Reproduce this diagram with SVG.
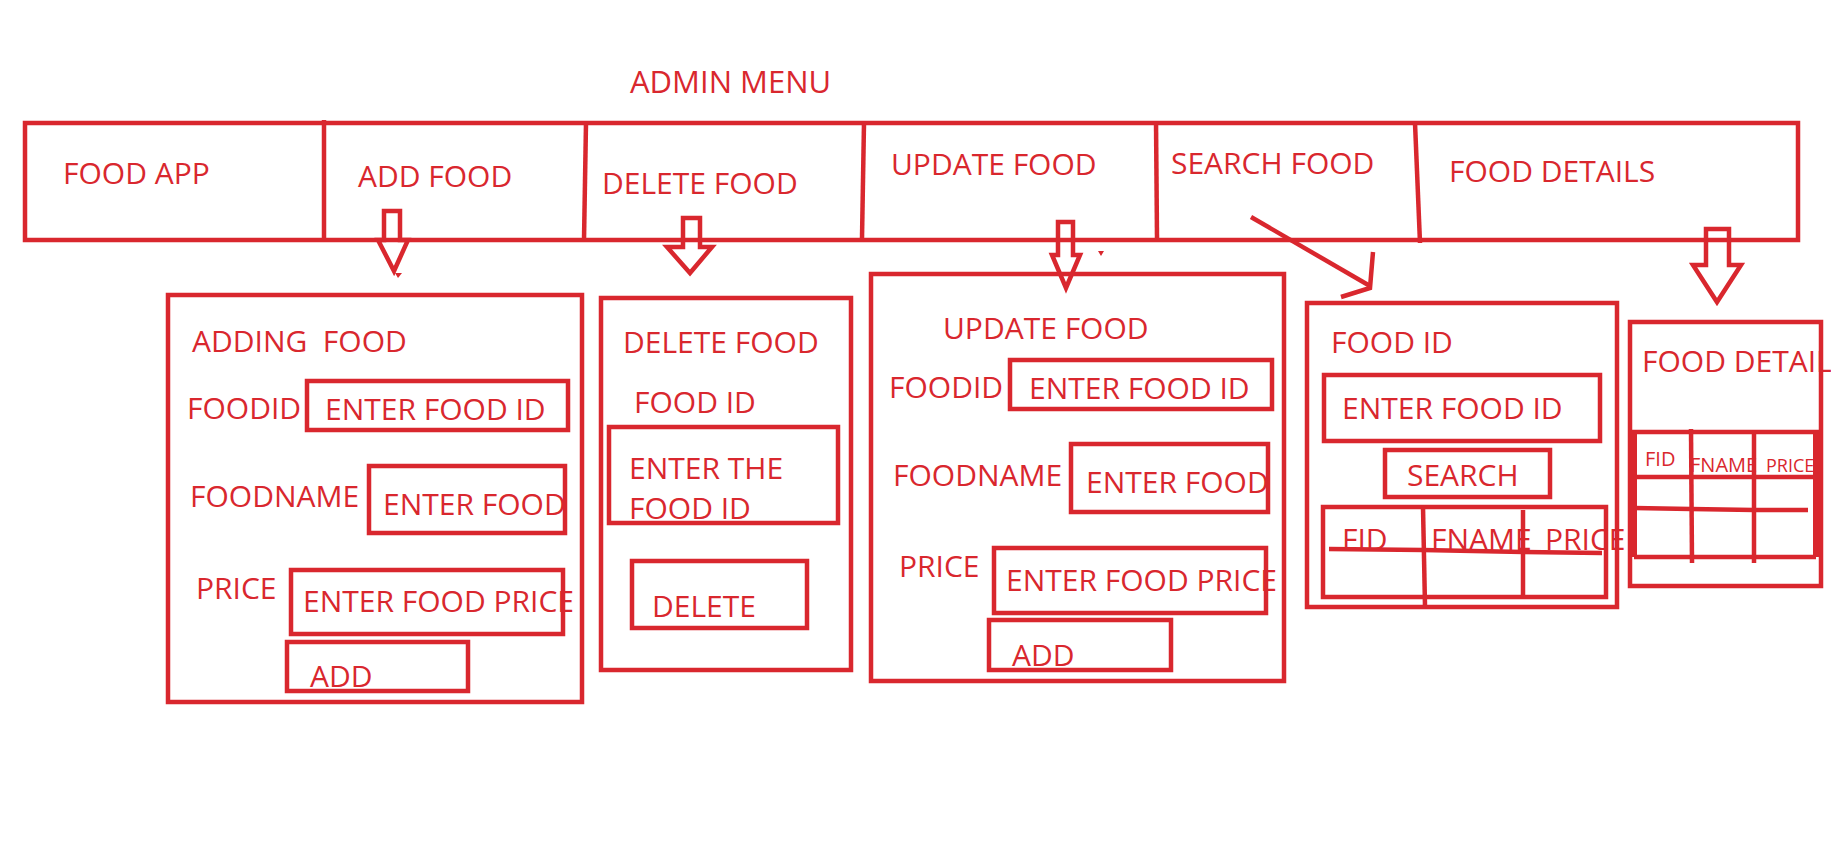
<svg xmlns="http://www.w3.org/2000/svg" width="1831" height="846" viewBox="0 0 1831 846">
<style>
.s{fill:none;stroke:#d9272e;stroke-width:4.5;stroke-linejoin:miter}
.t{font-family:"Open Sans","Noto Sans",sans-serif;font-size:30px;fill:#d9272e;white-space:pre}
.p{font-size:30px}
.sm{font-size:20px}
.dot{fill:#d9272e}
</style>
<rect width="1831" height="846" fill="#ffffff"/>
<text class="t" x="630" y="93" style="font-size:31px">ADMIN MENU</text>
<g id="menu-bar">
<rect class="s" x="25" y="123" width="1773" height="117"/>
<line class="s" x1="324" y1="120" x2="324" y2="240"/>
<line class="s" x1="586" y1="123" x2="584" y2="240"/>
<line class="s" x1="864" y1="123" x2="862" y2="238"/>
<line class="s" x1="1156" y1="121" x2="1157" y2="238"/>
<line class="s" x1="1415" y1="123" x2="1420" y2="243"/>
<text class="t" x="63" y="184">FOOD APP</text>
<text class="t" x="358" y="187">ADD FOOD</text>
<text class="t" x="602" y="194">DELETE FOOD</text>
<text class="t" x="891" y="175">UPDATE FOOD</text>
<text class="t" x="1171" y="174">SEARCH FOOD</text>
<text class="t" x="1449" y="182">FOOD DETAILS</text>
</g>
<g id="connectors">
<polygon class="s" points="384,211 400,211 400,240 408,240 394,271 378,240 384,240"/>
<polygon class="dot" points="395,273 402,273 398,278"/>
<polygon class="s" points="683,218 700,218 700,247 712,247 690,273 667,247 683,247"/>
<polygon class="s" points="1058,222 1073,222 1073,255 1080,255 1066,288 1052,255 1058,255"/>
<polygon class="dot" points="1098,251 1104,251 1101,256"/>
<line class="s" x1="1251" y1="217" x2="1370" y2="286"/>
<polyline class="s" points="1373,252 1370,288 1341,297"/>
<polygon class="s" points="1706,229 1729,229 1729,265 1741,265 1717,302 1693,265 1706,265"/>
</g>
<g id="adding-food">
<rect class="s" x="168" y="295" width="414" height="407"/>
<text class="t p" x="192" y="352">ADDING  FOOD</text>
<text class="t p" x="187" y="419">FOODID</text>
<rect class="s" x="307" y="381" width="261" height="49"/>
<text class="t p" x="325" y="420">ENTER FOOD ID</text>
<text class="t p" x="190" y="507">FOODNAME</text>
<rect class="s" x="369" y="466" width="196" height="67"/>
<text class="t p" x="383" y="515">ENTER FOOD</text>
<text class="t p" x="196" y="599">PRICE</text>
<rect class="s" x="291" y="570" width="272" height="64"/>
<text class="t p" x="303" y="612">ENTER FOOD PRICE</text>
<rect class="s" x="287" y="642" width="181" height="49"/>
<text class="t p" x="310" y="687">ADD</text>
</g>
<g id="delete-food">
<rect class="s" x="601" y="298" width="250" height="372"/>
<text class="t p" x="623" y="353">DELETE FOOD</text>
<text class="t p" x="634" y="413">FOOD ID</text>
<rect class="s" x="609" y="427" width="229" height="96"/>
<text class="t p" x="629" y="479">ENTER THE</text>
<text class="t p" x="629" y="519">FOOD ID</text>
<rect class="s" x="632" y="561" width="175" height="67"/>
<text class="t p" x="652" y="617">DELETE</text>
</g>
<g id="update-food">
<rect class="s" x="871" y="274" width="413" height="407"/>
<text class="t p" x="943" y="339">UPDATE FOOD</text>
<text class="t p" x="889" y="398">FOODID</text>
<rect class="s" x="1010" y="360" width="262" height="49"/>
<text class="t p" x="1029" y="399">ENTER FOOD ID</text>
<text class="t p" x="893" y="486">FOODNAME</text>
<rect class="s" x="1071" y="444" width="197" height="68"/>
<text class="t p" x="1086" y="493">ENTER FOOD</text>
<text class="t p" x="899" y="577">PRICE</text>
<rect class="s" x="994" y="548" width="272" height="65"/>
<text class="t p" x="1006" y="591">ENTER FOOD PRICE</text>
<rect class="s" x="989" y="620" width="182" height="50"/>
<text class="t p" x="1012" y="666">ADD</text>
</g>
<g id="search-food">
<rect class="s" x="1307" y="303" width="310" height="304"/>
<text class="t p" x="1331" y="353">FOOD ID</text>
<rect class="s" x="1324" y="375" width="276" height="66"/>
<text class="t p" x="1342" y="419">ENTER FOOD ID</text>
<rect class="s" x="1385" y="450" width="165" height="47"/>
<text class="t p" x="1407" y="486">SEARCH</text>
<rect class="s" x="1323" y="507" width="283" height="90"/>
<line class="s" x1="1423" y1="507" x2="1425" y2="606"/>
<line class="s" x1="1523" y1="510" x2="1523" y2="596"/>
<polyline class="s" points="1329,549 1423,550 1523,552 1602,553"/>
<text class="t p" x="1342" y="550">FID</text>
<text class="t p" x="1431" y="550">FNAME</text>
<text class="t p" x="1545" y="550">PRICE</text>
</g>
<g id="food-details">
<rect class="s" x="1630" y="322" width="191" height="264"/>
<text class="t p" x="1642" y="372">FOOD DETAIL</text>
<line class="s" x1="1630" y1="432" x2="1821" y2="432"/>
<line class="s" x1="1634" y1="432" x2="1634" y2="557" style="stroke-width:6"/>
<line class="s" x1="1816" y1="432" x2="1816" y2="557" style="stroke-width:6"/>
<line class="s" x1="1634" y1="557" x2="1816" y2="557"/>
<line class="s" x1="1691" y1="429" x2="1692" y2="563"/>
<line class="s" x1="1754" y1="434" x2="1754" y2="563"/>
<line class="s" x1="1634" y1="477" x2="1813" y2="477"/>
<polyline class="s" points="1634,508 1691,509 1754,510 1808,510"/>
<text class="t sm" x="1645" y="466">FID</text>
<text class="t sm" x="1690" y="472">FNAME</text>
<text class="t sm" x="1766" y="472" style="font-size:18px">PRICE</text>
</g>
</svg>
